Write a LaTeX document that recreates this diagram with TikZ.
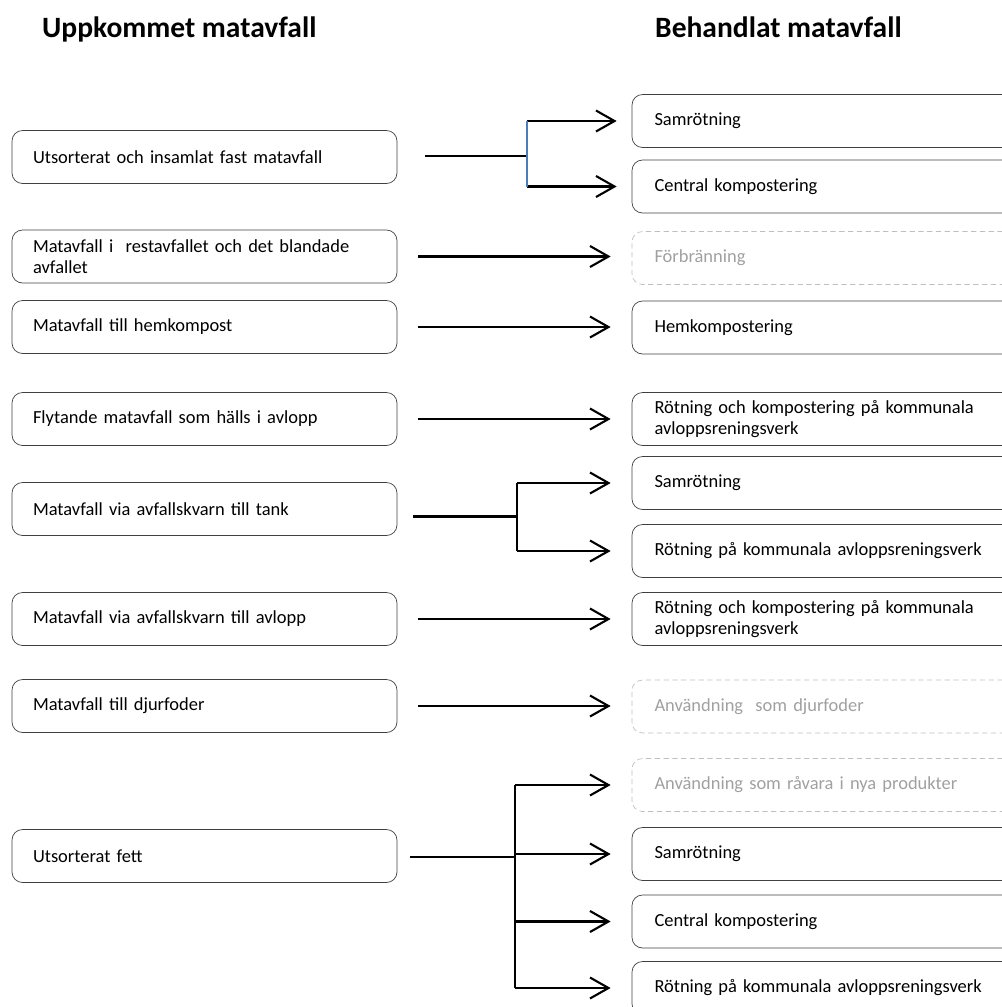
\documentclass[tikz,border=0pt]{standalone}
\usepackage{fontspec}
\setmainfont{Carlito}
\definecolor{boxgray}{RGB}{64,64,64}
\definecolor{ghostgray}{RGB}{191,191,191}
\definecolor{ghosttext}{RGB}{160,160,160}
\definecolor{joinblue}{RGB}{74,126,187}
\usetikzlibrary{arrows.meta,positioning,calc}

\begin{document}
\begin{tikzpicture}[
    srcbox/.style={draw=boxgray, rounded corners=6pt, minimum width=7.7cm,
                minimum height=1.06cm, text width=6.86cm, align=left,
                font=\fontsize{10.5}{12}\selectfont},
    dstbox/.style={draw=boxgray, rounded corners=6pt, minimum width=7.8cm,
                minimum height=1.06cm, text width=6.9cm, align=left,
                font=\fontsize{10.5}{12}\selectfont},
    ghostbox/.style={dstbox, draw=ghostgray, densely dashed, text=ghosttext},
    heading/.style={font=\fontsize{16.8}{20}\selectfont\bfseries, anchor=base west},
    line/.style={line width=1.25pt, black},
    arr/.style={line, -{Straight Barb[length=0.37cm, width=0.42cm, line width=1.2pt]},
                shorten >=0.42cm},
    feed/.style={line, shorten <=0.42cm}
  ]
    \useasboundingbox (0,0) rectangle (20.04,-20.14);

    % Headings
    \node[heading] (hsrc) at (0.72,-0.74) {Uppkommet matavfall};
    \node[heading] (hdst) at (12.98,-0.74) {Behandlat matavfall};

    % Sources
    \node[srcbox] (l1) at (4.09,-3.14)  {Utsorterat och insamlat fast matavfall};
    \node[srcbox] (l2) at (4.09,-5.13)  {Matavfall i\ \ restavfallet och det blandade\\avfallet};
    \node[srcbox] (l3) at (4.09,-6.54)  {Matavfall till hemkompost};
    \node[srcbox] (l4) at (4.09,-8.38)  {Flytande matavfall som hälls i avlopp};
    \node[srcbox] (l5) at (4.09,-10.18) {Matavfall via avfallskvarn till tank};
    \node[srcbox] (l6) at (4.09,-12.38) {Matavfall via avfallskvarn till avlopp};
    \node[srcbox] (l7) at (4.09,-14.12) {Matavfall till djurfoder};
    \node[srcbox] (l8) at (4.09,-17.12) {Utsorterat fett};

    % Treatments
    \node[dstbox]   (r1)  at (16.54,-2.42)  {Samrötning};
    \node[dstbox]   (r2)  at (16.54,-3.73)  {Central kompostering};
    \node[ghostbox] (r3)  at (16.54,-5.16)  {Förbränning};
    \node[dstbox]   (r4)  at (16.54,-6.55)  {Hemkompostering};
    \node[dstbox]   (r5)  at (16.54,-8.38)  {Rötning och kompostering på kommunala\\avloppsreningsverk};
    \node[dstbox]   (r6)  at (16.54,-9.66)  {Samrötning};
    \node[dstbox]   (r7)  at (16.54,-11.02) {Rötning på kommunala avloppsreningsverk};
    \node[dstbox]   (r8)  at (16.54,-12.38) {Rötning och kompostering på kommunala\\avloppsreningsverk};
    \node[ghostbox] (r9)  at (16.54,-14.13) {Användning\ \ som djurfoder};
    \node[ghostbox] (r10) at (16.54,-15.70) {Användning som råvara i nya produkter};
    \node[dstbox]   (r11) at (16.54,-17.08) {Samrötning};
    \node[dstbox]   (r12) at (16.54,-18.43) {Central kompostering};
    \node[dstbox]   (r13) at (16.54,-19.76) {Rötning på kommunala avloppsreningsverk};

    % Junctions
    \coordinate (j1) at (10.54,-3.12);
    \coordinate (j5) at (10.34,-10.33);
    \coordinate (j8) at (10.30,-17.14);

    % Straight arrows
    \draw[arr, shorten <=0.42cm] (l2.east) -- (l2.east -| r3.west);
    \draw[arr, shorten <=0.42cm] (l3.east) -- (l3.east -| r4.west);
    \draw[arr, shorten <=0.42cm] (l4.east) -- (l4.east -| r5.west);
    \draw[arr, shorten <=0.42cm] (l6.east) -- (l6.east -| r8.west);
    \draw[arr, shorten <=0.42cm] (l7.east) -- (l7.east -| r9.west);

    % Branch 1
    \draw[line, shorten <=0.56cm] (l1.east |- j1) -- (j1);
    \draw[arr, shorten >=0.30cm] (j1 |- r1.west) -- (r1.west);
    \draw[arr, shorten >=0.30cm] (j1 |- r2.west) -- (r2.west);
    \draw[joinblue, line width=1.25pt] (j1 |- r1.west) -- (j1 |- r2.west);

    % Branch 5
    \draw[feed, shorten <=0.32cm] (l5.east |- j5) -- (j5);
    \draw[line] (j5 |- r6.west) -- (j5 |- r7.west);
    \foreach \t in {r6,r7}
      \draw[arr] (j5 |- \t.west) -- (\t.west);

    % Branch 8
    \draw[feed, shorten <=0.26cm] (l8.east |- j8) -- (j8);
    \draw[line] (j8 |- r10.west) -- (j8 |- r13.west);
    \foreach \t in {r10,r11,r12,r13}
      \draw[arr] (j8 |- \t.west) -- (\t.west);
\end{tikzpicture}
\end{document}
